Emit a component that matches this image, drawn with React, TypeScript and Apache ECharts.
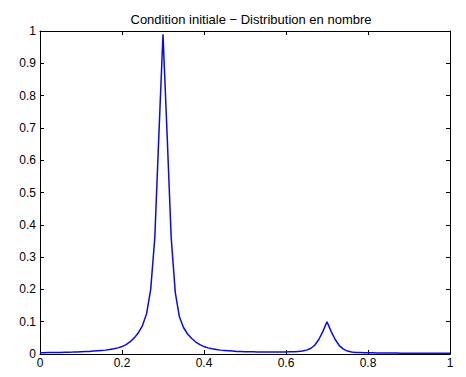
import React, { useEffect, useRef } from "react";
import * as echarts from "echarts";

const titleText = "Condition initiale \u2212 Distribution en nombre";

// x sampled every 0.01 from 0 to 1
const xValues: number[] = Array.from({ length: 101 }, (_, i) => i / 100);

const yValues: number[] = [
  // 0.00 - 0.09
  0.004, 0.0042, 0.0044, 0.0046, 0.0048, 0.005, 0.0053, 0.0056, 0.006, 0.0065,
  // 0.10 - 0.19
  0.007, 0.0075, 0.008, 0.009, 0.010, 0.011, 0.012, 0.014, 0.016, 0.019,
  // 0.20 - 0.29
  0.023, 0.029, 0.038, 0.050, 0.066, 0.088, 0.125, 0.2, 0.36, 0.68,
  // 0.30 - 0.39
  0.99, 0.68, 0.36, 0.19, 0.115, 0.082, 0.062, 0.048, 0.037, 0.029,
  // 0.40 - 0.49
  0.023, 0.019, 0.016, 0.014, 0.012, 0.011, 0.010, 0.009, 0.008, 0.0075,
  // 0.50 - 0.59
  0.007, 0.0068, 0.0066, 0.0064, 0.0062, 0.006, 0.006, 0.006, 0.006, 0.006,
  // 0.60 - 0.69
  0.0062, 0.0066, 0.007, 0.008, 0.009, 0.012, 0.017, 0.027, 0.045, 0.07,
  // 0.70 - 0.79
  0.10, 0.07, 0.045, 0.026, 0.015, 0.009, 0.006, 0.005, 0.0045, 0.004,
  // 0.80 - 0.89
  0.0038, 0.0036, 0.0034, 0.0032, 0.003, 0.003, 0.0028, 0.0028, 0.0026, 0.0026,
  // 0.90 - 1.00
  0.0025, 0.0024, 0.0024, 0.0023, 0.0022, 0.0022, 0.0021, 0.0021, 0.002, 0.002, 0.002,
];

const xTickLabels = ["0", "0.2", "0.4", "0.6", "0.8", "1"];
const yTickLabels = ["0", "0.1", "0.2", "0.3", "0.4", "0.5", "0.6", "0.7", "0.8", "0.9", "1"];

export default function App() {
  const ref = useRef<HTMLDivElement>(null);
  useEffect(() => {
    if (!ref.current) return;
    const chart = echarts.init(ref.current, undefined, { renderer: "svg" });
    const font = "'Liberation Sans', Arial, sans-serif";
    const axisLine = { show: true, onZero: false, lineStyle: { color: "#000", width: 1 } };
    const axisTick = { show: true, inside: true, length: 4, lineStyle: { color: "#000", width: 1 } };
    const fmtX = (v: number) => {
      const i = Math.round(v / 0.2);
      return xTickLabels[i] ?? "";
    };
    const fmtY = (v: number) => {
      const i = Math.round(v / 0.1);
      return yTickLabels[i] ?? "";
    };
    chart.setOption({
      animation: false,
      backgroundColor: "#fff",
      title: {
        text: titleText,
        left: 246,
        textAlign: "center",
        top: 8,
        textStyle: { fontFamily: font, fontSize: 13, fontWeight: "normal", color: "#000" },
      },
      grid: { left: 40, right: 16, top: 31, bottom: 23, containLabel: false },
      xAxis: [
        {
          type: "value",
          min: 0,
          max: 1,
          interval: 0.2,
          position: "bottom",
          axisLine,
          axisTick,
          splitLine: { show: false },
          axisLabel: { formatter: fmtX, color: "#000", fontFamily: font, fontSize: 12, margin: 3 },
        },
        {
          type: "value",
          min: 0,
          max: 1,
          interval: 0.2,
          position: "top",
          axisLine,
          axisTick,
          splitLine: { show: false },
          axisLabel: { show: false },
        },
      ],
      yAxis: [
        {
          type: "value",
          min: 0,
          max: 1,
          interval: 0.1,
          position: "left",
          axisLine,
          axisTick,
          splitLine: { show: false },
          axisLabel: { formatter: fmtY, color: "#000", fontFamily: font, fontSize: 12, margin: 4 },
        },
        {
          type: "value",
          min: 0,
          max: 1,
          interval: 0.1,
          position: "right",
          axisLine,
          axisTick,
          splitLine: { show: false },
          axisLabel: { show: false },
        },
      ],
      series: [
        {
          type: "line",
          data: xValues.map((x, i) => [x, yValues[i]]),
          xAxisIndex: 0,
          yAxisIndex: 0,
          showSymbol: false,
          symbol: "none",
          lineStyle: { color: "#0a0ae6", width: 1.5 },
        },
      ],
    });
    return () => chart.dispose();
  }, []);
  return <div ref={ref} style={{ width: 466, height: 377, position: "absolute", left: 0, top: 0 }} />;
}
